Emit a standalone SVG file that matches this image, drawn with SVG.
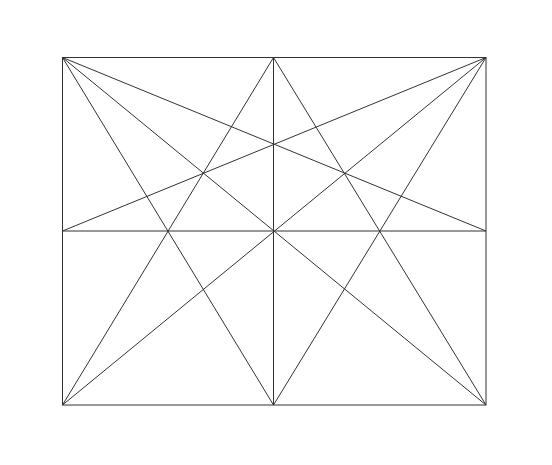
<svg xmlns="http://www.w3.org/2000/svg" width="552" height="465" viewBox="0 0 552 465">
<style>.l{stroke:#333;stroke-width:1;fill:none}</style>
<rect width="552" height="465" fill="#fff"/>
<g id="frame">
<rect class="l" x="62.5" y="57.5" width="423.5" height="347.5"/>
<line class="l" x1="273.5" y1="57.5" x2="273.5" y2="405"/>
<line class="l" x1="62.5" y1="231" x2="486" y2="231"/>
</g>
<g id="connectors">
<line class="l" x1="62.5" y1="57.5" x2="486" y2="231"/>
<line class="l" x1="62.5" y1="57.5" x2="486" y2="405"/>
<line class="l" x1="62.5" y1="57.5" x2="273.5" y2="405"/>
<line class="l" x1="486" y1="57.5" x2="62.5" y2="231"/>
<line class="l" x1="486" y1="57.5" x2="62.5" y2="405"/>
<line class="l" x1="486" y1="57.5" x2="273.5" y2="405"/>
<line class="l" x1="273.5" y1="57.5" x2="62.5" y2="405"/>
<line class="l" x1="273.5" y1="57.5" x2="486" y2="405"/>
</g>
</svg>
